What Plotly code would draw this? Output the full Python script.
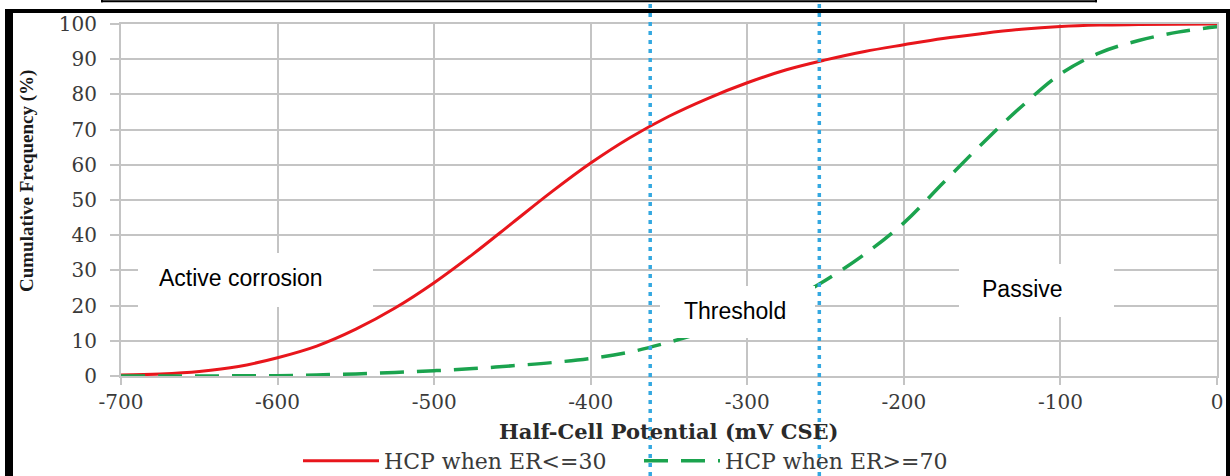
import plotly.graph_objects as go

# ---------------- data ----------------
potential_mv = [-700, -675, -650, -625, -600, -575, -550, -525, -500, -475, -450, -425, -400,
                -375, -350, -325, -300, -275, -250, -225, -200, -175, -150, -125, -100, -75,
                -50, -25, 0]
hcp_er_le_30 = [0.3, 0.6, 1.3, 2.7, 5.2, 8.5, 13.3, 19.3, 26.5, 34.7, 43.5, 52.3, 60.5,
                67.7, 73.8, 78.9, 83.3, 87.0, 89.8, 92.2, 94.1, 95.9, 97.3, 98.5, 99.3, 99.7,
                99.85, 99.95, 100]
hcp_er_ge_70 = [0, 0, 0, 0.05, 0.1, 0.3, 0.6, 1.0, 1.5, 2.1, 2.9, 3.8, 5.0,
                6.8, 9.6, 12.8, 16.3, 21.0, 27.2, 34.6, 43.5, 54.8, 66, 76.5, 85.8, 91.8,
                95.3, 97.7, 99.2]

series_names = ["HCP when ER<=30", "HCP when ER>=70"]
x_tick_vals = [-700, -600, -500, -400, -300, -200, -100, 0]
x_tick_text = ["-700", "-600", "-500", "-400", "-300", "-200", "-100", "0"]
y_tick_vals = [0, 10, 20, 30, 40, 50, 60, 70, 80, 90, 100]
threshold_lines = [-362, -254]
region_labels = ["Active corrosion", "Threshold", "Passive"]

# ---------------- geometry helpers (pixel -> paper) ----------------
W, H = 1230, 476
L, R, T, B = 121, 1217, 24, 376


def px(xp):
    return (xp - L) / (R - L)


def py(yp):
    return (B - yp) / (B - T)


RED = "#E8161C"
GREEN = "#1BA34E"
GRID = "#C4C4C4"
BLUE = "#34A8E0"
TICKFONT = dict(family="DejaVu Serif", size=20, color="#3a3a3a")

fig = go.Figure()
fig.add_trace(go.Scatter(
    x=potential_mv, y=hcp_er_le_30, name=series_names[0], mode="lines",
    line=dict(color=RED, width=3, shape="spline", smoothing=1.0),
))
fig.add_trace(go.Scatter(
    x=potential_mv, y=hcp_er_ge_70, name=series_names[1], mode="lines",
    line=dict(color=GREEN, width=3.5, shape="spline", smoothing=1.0, dash="24px,13px"),
))

shapes = []
# white label boxes
for (x0, y0, x1, y1) in [(138, 253, 373, 307), (660, 286, 815, 338), (959, 264, 1114, 317)]:
    shapes.append(dict(type="rect", xref="paper", yref="paper", layer="above",
                       x0=px(x0), x1=px(x1), y0=py(y1), y1=py(y0),
                       fillcolor="white", line=dict(width=0)))
# blue dotted threshold lines
for xv in threshold_lines:
    shapes.append(dict(type="line", xref="x", yref="paper", layer="above",
                       x0=xv, x1=xv, y0=py(H), y1=py(0),
                       line=dict(color=BLUE, width=3.5, dash="4px,5px")))
# black frame
for (x0, y0, x1, y1) in [(5, 9, 13, H + 2), (5, 9, 1230, 13), (1226, 9, 1230, H + 2)]:
    shapes.append(dict(type="rect", xref="paper", yref="paper", layer="above",
                       x0=px(x0), x1=px(x1), y0=py(y1), y1=py(y0),
                       fillcolor="black", line=dict(width=0)))
# caption box bottom edge at the very top
shapes.append(dict(type="line", xref="paper", yref="paper", layer="above",
                   x0=px(101), x1=px(1097), y0=py(1.2), y1=py(1.2),
                   line=dict(color="black", width=2)))
for xe in (102, 1096):
    shapes.append(dict(type="line", xref="paper", yref="paper", layer="above",
                       x0=px(xe), x1=px(xe), y0=py(2.2), y1=py(-2),
                       line=dict(color="black", width=2)))

annotations = [
    dict(text=region_labels[0], x=px(157), y=py(278), xref="paper", yref="paper",
         xanchor="left", yanchor="middle", showarrow=False,
         font=dict(family="Liberation Sans, Arial", size=23, color="black")),
    dict(text=region_labels[1], x=px(682), y=py(311), xref="paper", yref="paper",
         xanchor="left", yanchor="middle", showarrow=False,
         font=dict(family="Liberation Sans, Arial", size=23, color="black")),
    dict(text=region_labels[2], x=px(980), y=py(289), xref="paper", yref="paper",
         xanchor="left", yanchor="middle", showarrow=False,
         font=dict(family="Liberation Sans, Arial", size=23, color="black")),
    dict(text="<b>Half-Cell Potential (mV CSE)</b>", x=px(669), y=py(431),
         xref="paper", yref="paper", xanchor="center", yanchor="middle", showarrow=False,
         font=dict(family="DejaVu Serif", size=21, color="#2a2a2a")),
    dict(text="<b>Cumulative Frequency (%)</b>", x=px(27), y=py(181),
         xref="paper", yref="paper", xanchor="center", yanchor="middle", showarrow=False,
         textangle=-90,
         font=dict(family="Liberation Serif, Times New Roman", size=19, color="#1a1a1a")),
]

fig.update_layout(
    width=W, height=H, autosize=False,
    margin=dict(l=L, r=W - R, t=T, b=H - B, pad=0, autoexpand=False),
    paper_bgcolor="white", plot_bgcolor="white",
    showlegend=True,
    legend=dict(orientation="h", x=px(298), y=py(461), xanchor="left", yanchor="middle",
                font=dict(family="DejaVu Serif", size=22, color="#3a3a3a"),
                itemwidth=76, entrywidth=250, entrywidthmode="pixels",
                bgcolor="rgba(0,0,0,0)", tracegroupgap=0),
    xaxis=dict(range=[-700, 0], tickmode="array", tickvals=x_tick_vals, ticktext=x_tick_text,
               showgrid=True, gridcolor=GRID, gridwidth=2, zeroline=False,
               showline=True, linecolor=GRID, linewidth=2, mirror=True,
               ticks="outside", ticklen=7, tickwidth=2, tickcolor=GRID,
               tickfont=TICKFONT, ticklabelstandoff=0),
    yaxis=dict(range=[0, 100], tickmode="array", tickvals=y_tick_vals,
               showgrid=True, gridcolor=GRID, gridwidth=2, zeroline=False,
               showline=True, linecolor=GRID, linewidth=2, mirror=True,
               ticks="outside", ticklen=9, tickwidth=2, tickcolor=GRID,
               tickfont=TICKFONT, ticklabelstandoff=9),
    shapes=shapes,
    annotations=annotations,
)

fig.write_html("out.html")
